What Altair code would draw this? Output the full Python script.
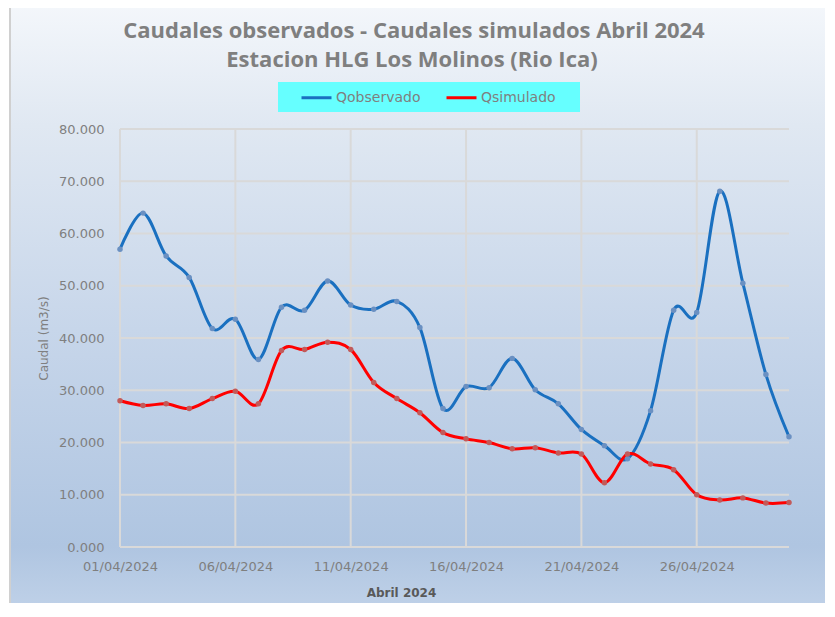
import altair as alt
import pandas as pd

# ---- data ----
dias = list(range(1, 31))  # April 2024, day of month
q_observado = [57.0, 63.9, 55.7, 51.6, 41.8, 43.6, 35.9, 45.9, 45.3, 50.9,
               46.3, 45.5, 47.0, 42.0, 26.5, 30.7, 30.5, 36.1, 30.1, 27.4,
               22.5, 19.4, 16.9, 26.1, 45.3, 44.9, 68.1, 50.5, 33.0, 21.1]
q_simulado = [28.0, 27.1, 27.4, 26.5, 28.4, 29.8, 27.4, 37.6, 37.8, 39.2,
              37.8, 31.5, 28.4, 25.7, 21.9, 20.7, 20.0, 18.8, 19.0, 18.0,
              17.8, 12.3, 17.8, 15.9, 14.8, 10.0, 9.0, 9.4, 8.4, 8.5]
series = ["Qobservado", "Qsimulado"]
y_ticks = [0, 10, 20, 30, 40, 50, 60, 70, 80]
x_ticks = [1, 6, 11, 16, 21, 26]
title_lines = ["Caudales observados - Caudales simulados Abril 2024",
               "Estacion HLG Los Molinos (Rio Ica)"]

line_colors = ["#1a70c0", "#ff0000"]
marker_colors = ["#6a90c2", "#c25a5a"]

df = pd.DataFrame({
    "dia": dias * 2,
    "caudal": q_observado + q_simulado,
    "serie": [series[0]] * len(dias) + [series[1]] * len(dias),
})
ygrid = pd.DataFrame({"caudal": y_ticks})
xgrid = pd.DataFrame({"dia": x_ticks})

W, H = 669, 418
FONT = "DejaVu Sans"

x_enc = alt.X(
    "dia:Q",
    scale=alt.Scale(domain=[1, 30], nice=False, zero=False),
    axis=alt.Axis(
        values=x_ticks,
        labelExpr="(datum.value < 10 ? '0' : '') + datum.value + '/04/2024'",
        grid=False, domain=False, ticks=False, zindex=1,
        labelFont=FONT, labelFontSize=13, labelColor="#7f7f7f",
        labelPadding=13, labelFlush=False,
        title="Abril 2024", titleFont=FONT, titleFontSize=12,
        titleFontWeight="bold", titleColor="#595959",
        titleX=281, titleY=40, titleAlign="center", titleBaseline="top",
    ),
)
y_enc = alt.Y(
    "caudal:Q",
    scale=alt.Scale(domain=[0, 80], nice=False),
    axis=alt.Axis(
        values=y_ticks,
        labelExpr="format(datum.value, '.3f')",
        grid=False, domain=False, ticks=False, zindex=1,
        labelFont=FONT, labelFontSize=13, labelColor="#7f7f7f",
        labelPadding=16,
        title="Caudal (m3/s)", titleFont=FONT, titleFontSize=12,
        titleFontWeight="normal", titleColor="#7f7f7f",
        titleX=-77, titleY=H / 2, titleAlign="center", titleBaseline="middle",
        titleAngle=270,
    ),
)

bg_gradient = alt.LinearGradient(
    gradient="linear", x1=0, x2=0, y1=0, y2=1,
    stops=[
        alt.GradientStop(offset=0.0, color="#f4f7fb"),
        alt.GradientStop(offset=0.2, color="#e0e8f2"),
        alt.GradientStop(offset=0.53, color="#c7d6ea"),
        alt.GradientStop(offset=0.88, color="#afc5e1"),
        alt.GradientStop(offset=1.0, color="#c2d3e9"),
    ],
)

one = alt.Data(values=[{}])

background = alt.Chart(one).mark_rect(
    color=bg_gradient, stroke="#d0d0d0", strokeWidth=2
).encode(
    x=alt.value(-110), x2=alt.value(W + 60),
    y=alt.value(-127), y2=alt.value(H + 73),
)

title1 = alt.Chart(one).mark_text(
    font="Open Sans", fontSize=22, fontWeight="bold", color="#7f7f7f",
    align="center", baseline="alphabetic",
).encode(x=alt.value(294), y=alt.value(-91), text=alt.value(title_lines[0]))
title2 = alt.Chart(one).mark_text(
    font="Open Sans", fontSize=22, fontWeight="bold", color="#7f7f7f",
    align="center", baseline="alphabetic",
).encode(x=alt.value(292), y=alt.value(-62), text=alt.value(title_lines[1]))

legend_box = alt.Chart(one).mark_rect(color="#66ffff").encode(
    x=alt.value(158), x2=alt.value(460),
    y=alt.value(-47), y2=alt.value(-17),
)

hgrid = alt.Chart(ygrid).mark_rule(color="#d9d9d9", strokeWidth=2).encode(y=y_enc)
vgrid = alt.Chart(xgrid).mark_rule(color="#d9d9d9", strokeWidth=2).encode(x=x_enc)

lines = alt.Chart(df).mark_line(interpolate="cardinal", strokeWidth=3).encode(
    x=x_enc, y=y_enc,
    color=alt.Color(
        "serie:N",
        scale=alt.Scale(domain=series, range=line_colors),
        legend=alt.Legend(
            title=None, orient="none", legendX=180, legendY=-48,
            direction="horizontal", symbolType="stroke",
            symbolStrokeWidth=3, symbolSize=900,
            labelFont=FONT, labelFontSize=14, labelColor="#7f7f7f",
            labelOffset=3, columnPadding=19, zindex=2,
        ),
    ),
)

points = alt.Chart(df).mark_circle(size=30, opacity=1).encode(
    x=x_enc, y=y_enc,
    color=alt.Color("serie:N", scale=alt.Scale(domain=series, range=marker_colors), legend=None),
)

chart = alt.layer(background, title1, title2, legend_box, hgrid, vgrid, lines, points).resolve_scale(
    color="independent"
).properties(
    width=W, height=H,
    autosize=alt.AutoSizeParams(type="none"),
    padding={"left": 112, "top": 121, "right": 36, "bottom": 56},
).configure(background="white").configure_view(stroke=None)

chart.save("out.html", embed_options={"renderer": "svg", "actions": False})
